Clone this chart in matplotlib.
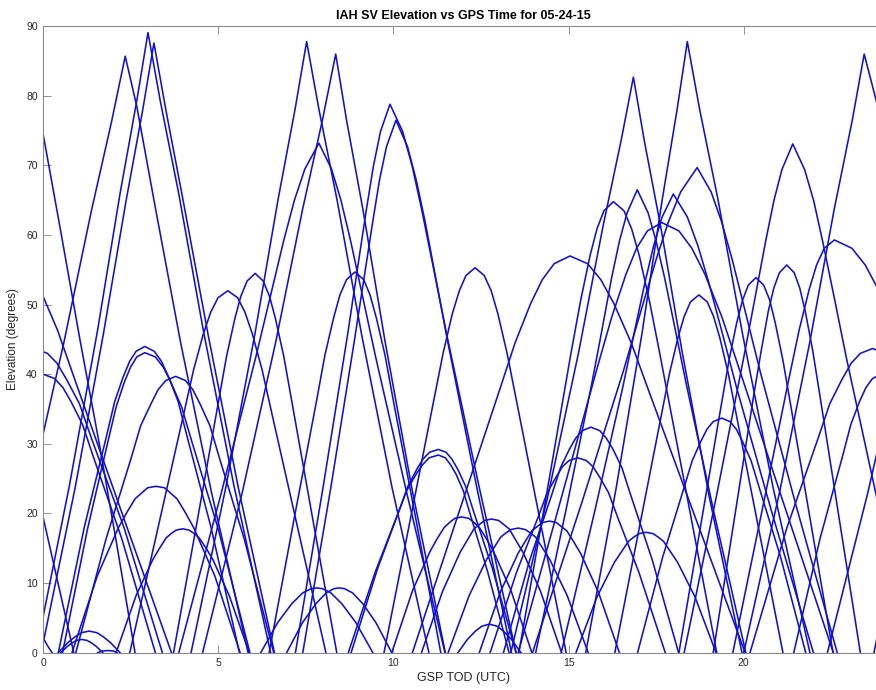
import matplotlib
matplotlib.use('Agg')
import matplotlib.pyplot as plt

# ---------------------------------------------------------
# satellite passes: (GPS time [h], elevation [deg])
# passes that cross midnight are listed at both ends of the day
passes_night = [
    [(0, 74.4), (0.5, 60.5), (1.05, 44.9), (1.6, 30.0), (2.1, 15.5), (2.62, 0)],
    [(-0.15, 22.7), (0.87, 0)],
    [(-0.84, 58.1), (-0.465, 55.7), (-0.09, 52.2), (0.41, 46.3), (0.91, 39.1), (2.16, 21.3),
     (3.66, 0)],
    [(-0.25, 43.7), (0.12, 43.0), (0.39, 41.6), (0.66, 39.3), (1.03, 35.8), (1.39, 30.6),
     (2.31, 17.9), (3.40, 0)],
    [(-0.32, 39.4), (0, 40.0), (0.32, 39.4), (0.56, 38.1), (0.8, 36.0), (1.12, 32.8),
     (1.44, 28.0), (2.24, 16.4), (3.2, 0)],
    [(0, 2.1), (0.12, 1.0), (0.25, 0)],
]

passes_morning = [
    [(-0.38, 23.1), (0.59, 44.6), (1.37, 63.4), (1.95, 76.3), (2.34, 85.7), (2.67, 78.5),
     (3.22, 63.4), (3.92, 44.6), (4.80, 23.1), (5.85, 0)],
    [(-0.21, 0), (0.75, 24.1), (1.55, 46.3), (2.19, 65.9), (2.67, 79.3), (2.99, 89.1),
     (3.34, 79.3), (3.87, 65.9), (4.57, 46.3), (5.44, 24.1), (6.49, 0)],
    [(-0.06, 0), (0.91, 23.7), (1.71, 45.6), (2.36, 64.8), (2.84, 78.0), (3.16, 87.6),
     (3.50, 78.0), (4.00, 64.8), (4.71, 45.6), (5.57, 23.7), (6.6, 0)],
    [(2.47, 0), (3.31, 18.7), (4.01, 34.3), (4.29, 40.6), (4.57, 45.8), (4.78, 48.9),
     (4.99, 51.0), (5.27, 52.0), (5.55, 51.0), (5.76, 48.9), (5.97, 45.8), (6.25, 40.6),
     (6.53, 34.3), (7.23, 18.7), (8.07, 0)],
    [(3.72, 0), (4.42, 19.6), (5.0, 36.0), (5.23, 42.5), (5.47, 48.0), (5.64, 51.2),
     (5.82, 53.4), (6.05, 54.5), (6.28, 53.4), (6.46, 51.2), (6.63, 48.0), (6.87, 42.5),
     (7.10, 36.0), (7.68, 19.6), (8.38, 0)],
    [(0.43, 0), (1.17, 18.0), (1.79, 30.8), (2.04, 36.1), (2.28, 39.6), (2.47, 41.9),
     (2.65, 43.3), (2.90, 44.0), (3.17, 43.3), (3.37, 41.9), (3.58, 39.6), (3.85, 36.1),
     (4.12, 30.8), (4.79, 18.0), (5.6, 0)],
    [(0.55, 0), (1.26, 17.7), (1.84, 30.2), (2.08, 35.3), (2.31, 38.8), (2.49, 41.0),
     (2.67, 42.5), (2.90, 43.1), (3.20, 42.5), (3.43, 41.0), (3.65, 38.8), (3.95, 35.3),
     (4.25, 30.2), (5.0, 17.7), (5.9, 0)],
    [(0.93, 0), (1.79, 16.3), (2.50, 27.8), (2.78, 32.6), (3.07, 35.7), (3.28, 37.8),
     (3.50, 39.1), (3.78, 39.7), (4.06, 39.1), (4.27, 37.8), (4.48, 35.7), (4.76, 32.6),
     (5.04, 27.8), (5.74, 16.3), (6.58, 0)],
    [(0.82, 0), (1.54, 11.0), (2.14, 17.9), (2.38, 20.1), (2.62, 22.1), (2.80, 22.9),
     (2.98, 23.7), (3.22, 23.9), (3.46, 23.7), (3.64, 22.9), (3.82, 22.1), (4.06, 20.1),
     (4.30, 17.9), (4.90, 11.0), (5.62, 0)],
    [(2.08, 0), (2.65, 8.2), (3.13, 13.4), (3.32, 15.0), (3.51, 16.5), (3.65, 17.1),
     (3.79, 17.6), (3.98, 17.8), (4.17, 17.6), (4.31, 17.1), (4.45, 16.5), (4.65, 15.0),
     (4.84, 13.4), (5.31, 8.2), (5.88, 0)],
    [(0.43, 0), (0.69, 1.4), (0.91, 2.3), (1.09, 2.87), (1.31, 3.1), (1.53, 2.87),
     (1.71, 2.3), (1.93, 1.4), (2.19, 0)],
    [(0.5, 0), (0.68, 0.87), (0.83, 1.43), (0.95, 1.76), (1.10, 1.9), (1.25, 1.76),
     (1.37, 1.43), (1.52, 0.87), (1.7, 0)],
    [(1.55, 0), (1.7, 0.25), (1.85, 0.3), (2.0, 0.25), (2.1, 0)],
]

passes_midday = [
    [(4.22, 0), (5.21, 23.7), (6.04, 45.7), (6.70, 65.0), (7.19, 78.1), (7.52, 87.8),
     (7.87, 78.1), (8.39, 65.0), (9.09, 45.7), (9.96, 23.7), (11.01, 0)],
    [(4.55, 0), (5.69, 23.2), (6.64, 44.7), (7.40, 63.6), (7.97, 76.5), (8.35, 86.0),
     (8.66, 76.5), (9.13, 63.6), (9.76, 44.7), (10.54, 23.2), (11.48, 0)],
    [(3.87, 0), (5.07, 22.7), (6.07, 42.5), (6.47, 50.9), (6.87, 59.3), (7.17, 65.0),
     (7.47, 69.5), (7.87, 73.2), (8.23, 69.5), (8.50, 65.0), (8.77, 59.3), (9.13, 50.9),
     (9.49, 42.5), (10.39, 22.7), (11.47, 0)],
    [(6.45, 0), (7.18, 19.7), (7.80, 36.1), (8.04, 42.7), (8.29, 48.1), (8.47, 51.4),
     (8.66, 53.6), (8.90, 54.7), (9.15, 53.6), (9.33, 51.4), (9.51, 48.1), (9.76, 42.7),
     (10.0, 36.1), (10.62, 19.7), (11.35, 0)],
    [(7.2, 0), (8.01, 24.4), (8.69, 45.7), (8.96, 54.8), (9.23, 63.8), (9.43, 70.0),
     (9.63, 74.9), (9.90, 78.8), (10.26, 74.9), (10.53, 70.0), (10.80, 63.8), (11.16, 54.8),
     (11.52, 45.7), (12.42, 24.4), (13.5, 0)],
    [(7.41, 0), (8.21, 23.7), (8.87, 44.4), (9.14, 53.2), (9.41, 62.0), (9.60, 67.9),
     (9.80, 72.7), (10.07, 76.5), (10.40, 72.7), (10.65, 67.9), (10.90, 62.0), (11.23, 53.2),
     (11.56, 44.4), (12.38, 23.7), (13.37, 0)],
    [(9.73, 0), (10.51, 19.9), (11.16, 36.5), (11.42, 43.1), (11.68, 48.7), (11.88, 52.0),
     (12.07, 54.2), (12.33, 55.3), (12.59, 54.2), (12.79, 52.0), (12.98, 48.7), (13.24, 43.1),
     (13.50, 36.5), (14.15, 19.9), (14.93, 0)],
    [(10.54, 0), (11.89, 20.5), (13.02, 37.6), (13.47, 44.5), (13.92, 50.2), (14.25, 53.6),
     (14.59, 55.9), (15.04, 57.0), (15.54, 55.9), (15.92, 53.6), (16.29, 50.2), (16.79, 44.5),
     (17.29, 37.6), (18.54, 20.5), (20.04, 0)],
    [(6.21, 0), (6.69, 4.3), (7.09, 7.0), (7.25, 7.8), (7.41, 8.6), (7.53, 8.9),
     (7.65, 9.2), (7.81, 9.3), (7.97, 9.2), (8.09, 8.9), (8.21, 8.6), (8.37, 7.8),
     (8.53, 7.0), (8.93, 4.3), (9.41, 0)],
    [(6.95, 0), (7.40, 4.3), (7.78, 7.0), (7.93, 7.8), (8.08, 8.6), (8.19, 8.9),
     (8.30, 9.2), (8.45, 9.3), (8.60, 9.2), (8.71, 8.9), (8.83, 8.6), (8.98, 7.8),
     (9.13, 7.0), (9.50, 4.3), (9.95, 0)],
    [(8.79, 0), (9.54, 12.0), (10.16, 20.4), (10.41, 23.9), (10.66, 26.3), (10.84, 27.8),
     (11.03, 28.8), (11.28, 29.2), (11.50, 28.8), (11.67, 27.8), (11.84, 26.3), (12.06, 23.9),
     (12.28, 20.4), (12.83, 12.0), (13.5, 0)],
    [(8.71, 0), (9.48, 11.6), (10.12, 19.9), (10.38, 23.3), (10.64, 25.6), (10.83, 27.0),
     (11.02, 28.0), (11.28, 28.4), (11.48, 28.0), (11.63, 27.0), (11.79, 25.6), (11.99, 23.3),
     (12.19, 19.9), (12.69, 11.6), (13.3, 0)],
    [(9.95, 0), (10.55, 9.0), (11.05, 14.6), (11.25, 16.4), (11.45, 18.0), (11.60, 18.7),
     (11.75, 19.3), (11.95, 19.5), (12.15, 19.3), (12.30, 18.7), (12.45, 18.0), (12.65, 16.4),
     (12.85, 14.6), (13.35, 9.0), (13.95, 0)],
    [(10.8, 0), (11.4, 8.8), (11.9, 14.4), (12.10, 16.1), (12.3, 17.8), (12.45, 18.4),
     (12.6, 19.0), (12.8, 19.2), (13.0, 19.0), (13.15, 18.4), (13.3, 17.8), (13.50, 16.1),
     (13.7, 14.4), (14.2, 8.8), (14.8, 0)],
    [(11.56, 0), (12.16, 8.2), (12.66, 13.4), (12.86, 15.0), (13.06, 16.6), (13.21, 17.2),
     (13.36, 17.7), (13.56, 17.9), (13.76, 17.7), (13.91, 17.2), (14.06, 16.6), (14.26, 15.0),
     (14.46, 13.4), (14.96, 8.2), (15.56, 0)],
    [(12.45, 0), (13.05, 8.7), (13.55, 14.2), (13.75, 15.9), (13.95, 17.5), (14.10, 18.1),
     (14.25, 18.7), (14.45, 18.9), (14.65, 18.7), (14.80, 18.1), (14.95, 17.5), (15.15, 15.9),
     (15.35, 14.2), (15.85, 8.7), (16.45, 0)],
    [(11.84, 0), (12.11, 1.9), (12.34, 3.1), (12.52, 3.8), (12.74, 4.1), (12.96, 3.8),
     (13.14, 3.1), (13.37, 1.9), (13.64, 0)],
]

passes_evening = [
    [(13.35, 0), (14.40, 22.3), (15.28, 43.0), (15.98, 61.2), (16.50, 73.6), (16.85, 82.7),
     (17.16, 73.6), (17.63, 61.2), (18.25, 43.0), (19.02, 22.3), (19.95, 0)],
    [(15.49, 0), (16.36, 23.7), (17.09, 45.7), (17.67, 65.0), (18.10, 78.1), (18.39, 87.8),
     (18.74, 78.1), (19.27, 65.0), (19.97, 45.7), (20.84, 23.7), (21.89, 0)],
    [(13.58, 0), (14.39, 23.3), (15.06, 42.8), (15.34, 50.5), (15.61, 57.0), (15.81, 60.9),
     (16.01, 63.5), (16.28, 64.8), (16.58, 63.5), (16.80, 60.9), (17.02, 57.0), (17.31, 50.5),
     (17.61, 42.8), (18.35, 23.3), (19.23, 0)],
    [(14.06, 0), (14.93, 20.6), (15.66, 38.6), (15.95, 46.3), (16.23, 53.9), (16.45, 59.1),
     (16.67, 63.2), (16.96, 66.5), (17.27, 63.2), (17.50, 59.1), (17.74, 53.9), (18.05, 46.3),
     (18.36, 38.6), (19.13, 20.6), (20.06, 0)],
    [(14.79, 0), (15.75, 20.4), (16.55, 38.2), (16.87, 45.9), (17.19, 53.4), (17.43, 58.5),
     (17.67, 62.6), (17.99, 65.9), (18.39, 62.6), (18.69, 58.5), (18.99, 53.4), (19.39, 45.9),
     (19.79, 38.2), (20.79, 20.4), (21.99, 0)],
    [(13.56, 0), (14.79, 22.2), (15.81, 40.8), (16.23, 48.2), (16.64, 54.4), (16.94, 58.1),
     (17.25, 60.6), (17.66, 61.8), (18.15, 60.6), (18.52, 58.1), (18.89, 54.4), (19.38, 48.2),
     (19.87, 40.8), (21.09, 22.2), (22.56, 0)],
    [(13.97, 0), (15.38, 21.6), (16.56, 40.4), (17.03, 48.5), (17.50, 56.5), (17.85, 61.9),
     (18.20, 66.2), (18.67, 69.7), (19.07, 66.2), (19.37, 61.9), (19.67, 56.5), (20.07, 48.5),
     (20.47, 40.4), (21.47, 21.6), (22.67, 0)],
    [(18.3, 0), (19.23, 22.7), (20.0, 42.4), (20.32, 50.9), (20.63, 59.2), (20.86, 64.9),
     (21.09, 69.4), (21.40, 73.1), (21.74, 69.4), (22.00, 64.9), (22.25, 59.2), (22.59, 50.9),
     (22.93, 42.4), (23.78, 22.7), (24.8, 0)],
    [(19.13, 0), (19.76, 20.1), (20.28, 36.8), (20.50, 43.4), (20.70, 49.0), (20.86, 52.4),
     (21.02, 54.6), (21.23, 55.7), (21.44, 54.6), (21.60, 52.4), (21.76, 49.0), (21.97, 43.4),
     (22.18, 36.8), (22.70, 20.1), (23.33, 0)],
    [(18.15, 0), (18.81, 19.4), (19.36, 35.6), (19.58, 42.0), (19.80, 47.4), (19.97, 50.7),
     (20.13, 52.8), (20.35, 53.9), (20.57, 52.8), (20.74, 50.7), (20.90, 47.4), (21.12, 42.0),
     (21.34, 35.6), (21.89, 19.4), (22.55, 0)],
    [(16.32, 0), (17.04, 18.5), (17.64, 33.9), (17.88, 40.1), (18.12, 45.2), (18.30, 48.3),
     (18.48, 50.4), (18.72, 51.4), (18.96, 50.4), (19.14, 48.3), (19.32, 45.2), (19.56, 40.1),
     (19.80, 33.9), (20.40, 18.5), (21.12, 0)],
    [(13.14, 0), (13.89, 13.3), (14.52, 22.7), (14.77, 26.6), (15.02, 29.2), (15.20, 30.8),
     (15.39, 31.9), (15.64, 32.4), (15.89, 31.9), (16.08, 30.8), (16.27, 29.2), (16.52, 26.6),
     (16.77, 22.7), (17.39, 13.3), (18.14, 0)],
    [(12.76, 0), (13.51, 11.5), (14.14, 19.6), (14.39, 23.0), (14.64, 25.2), (14.82, 26.7),
     (15.01, 27.6), (15.26, 28.0), (15.51, 27.6), (15.70, 26.7), (15.89, 25.2), (16.14, 23.0),
     (16.39, 19.6), (17.01, 11.5), (17.76, 0)],
    [(16.97, 0), (17.69, 13.8), (18.29, 23.6), (18.53, 27.6), (18.77, 30.3), (18.95, 32.1),
     (19.13, 33.2), (19.37, 33.7), (19.61, 33.2), (19.79, 32.1), (19.97, 30.3), (20.21, 27.6),
     (20.45, 23.6), (21.05, 13.8), (21.77, 0)],
    [(15.21, 0), (15.81, 8.0), (16.31, 13.0), (16.51, 14.5), (16.71, 16.0), (16.86, 16.6),
     (17.01, 17.1), (17.21, 17.3), (17.41, 17.1), (17.56, 16.6), (17.71, 16.0), (17.91, 14.5),
     (18.11, 13.0), (18.61, 8.0), (19.21, 0)],
]

passes_late = [
    [(20.0, 0), (21.03, 23.2), (21.89, 44.7), (22.58, 63.6), (23.10, 76.5), (23.44, 86.0),
     (23.78, 79.4), (24.1, 71.0)],
    [(19.69, 0), (20.56, 21.3), (21.28, 39.1), (21.58, 46.3), (21.87, 52.2), (22.08, 55.7),
     (22.30, 58.1), (22.59, 59.3), (23.09, 58.1), (23.47, 55.7), (23.84, 52.2), (24.34, 46.3)],
    [(20.18, 0), (21.23, 17.9), (22.11, 30.6), (22.46, 35.8), (22.81, 39.3), (23.07, 41.6),
     (23.33, 43.0), (23.68, 43.7), (24.05, 43.0), (24.32, 41.6)],
    [(21.43, 0), (22.18, 16.4), (22.81, 28.0), (23.06, 32.8), (23.30, 36.0), (23.49, 38.1),
     (23.68, 39.4), (23.93, 40.0), (24.25, 39.4)],
    [(22.39, 0), (23.55, 23.1), (24.52, 44.6)],
    [(23.72, 0), (24.68, 24.1)],
    [(23.87, 0), (24.8, 23.7)],
]

x_ticks = [0, 5, 10, 15, 20]
y_ticks = [0, 10, 20, 30, 40, 50, 60, 70, 80, 90]

# =========================================================
plt.rcParams['font.family'] = ['Liberation Sans', 'DejaVu Sans']
axis_grey = '#262626'

fig = plt.figure(figsize=(8.76, 6.90), dpi=100)
ax = fig.add_axes([0.0494, 0.0541, 0.9595, 0.9078])

for group in (passes_night, passes_morning, passes_midday, passes_evening, passes_late):
    for pts in group:
        tt, ee = zip(*pts)
        ax.plot(tt, ee, color='#1010d0', linewidth=1.15, solid_joinstyle='round')

ax.set_xlim(0, 24)
ax.set_ylim(0, 90)
ax.set_xticks(x_ticks)
ax.set_yticks(y_ticks)
ax.tick_params(direction='in', length=5.8, width=0.6, top=True, right=True,
               labelsize=7.5, colors='#808080', labelcolor=axis_grey, pad=4)
for sp in ax.spines.values():
    sp.set_color('#8a8a8a')
    sp.set_linewidth(0.8)

ax.set_title('IAH SV Elevation vs GPS Time for 05-24-15', fontsize=9,
             fontweight='bold', color='black', pad=5)
ax.set_xlabel('GSP TOD (UTC)', fontsize=9, color=axis_grey, labelpad=3)
ax.set_ylabel('Elevation (degrees)', fontsize=8.5, color=axis_grey, labelpad=5)

fig.savefig('out.png', dpi=100)
